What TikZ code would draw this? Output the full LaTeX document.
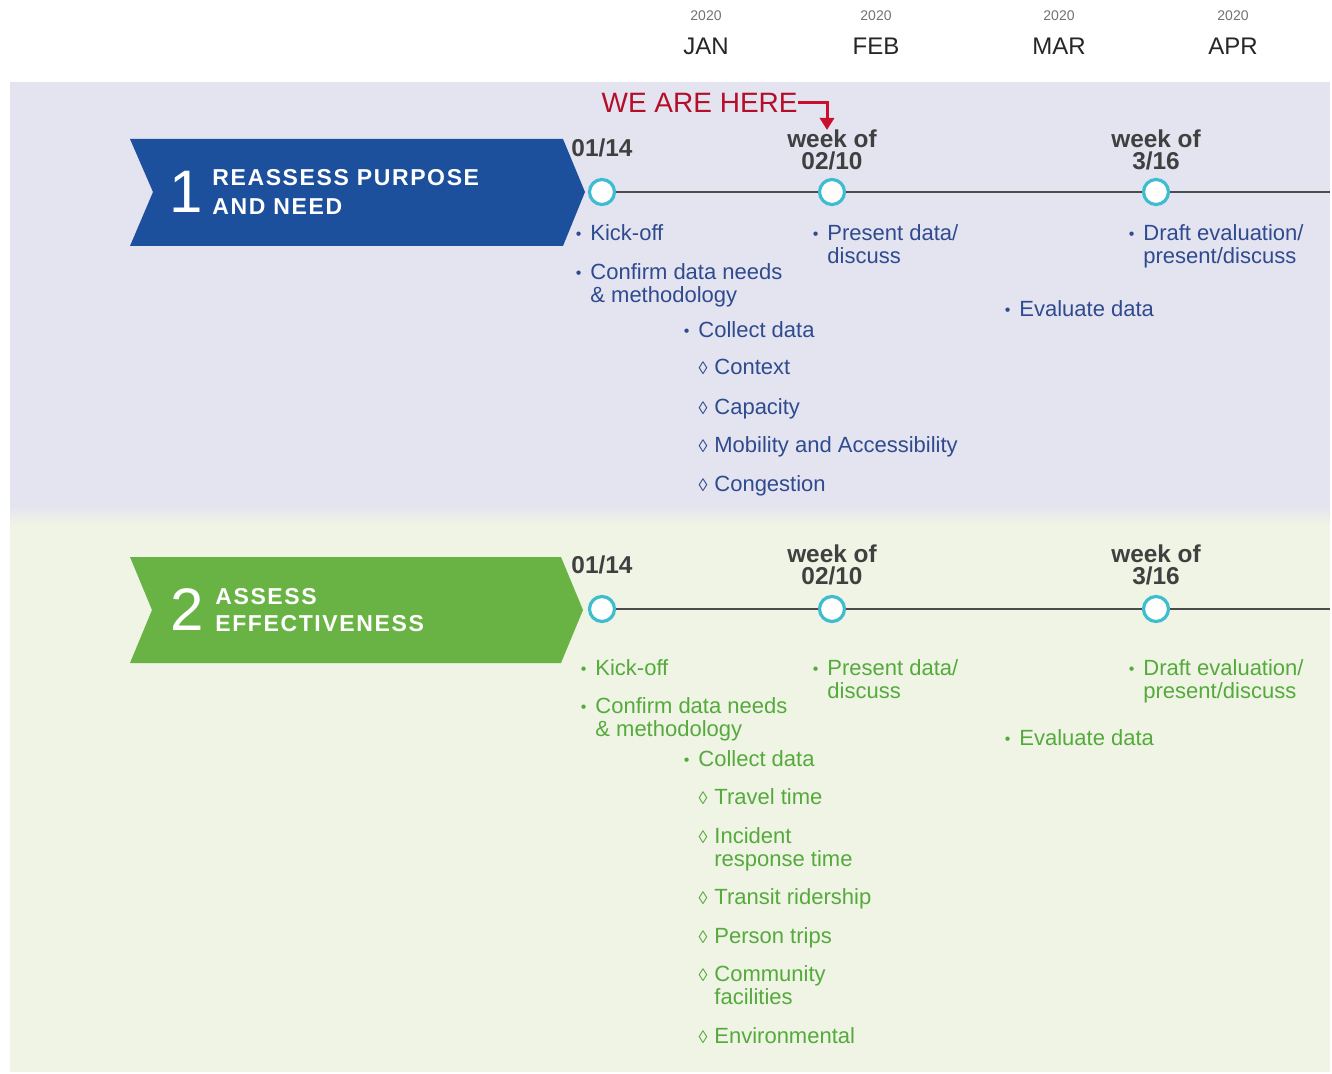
\documentclass[tikz,border=0pt]{standalone}
\usepackage{fontspec}
\setmainfont{Liberation Sans}
\newfontfamily\bannerfont[LetterSpace=7]{Liberation Sans}
\usetikzlibrary{arrows.meta,positioning}

\definecolor{bandblue}{HTML}{E3E4F0}
\definecolor{bandgreen}{HTML}{EFF4E5}
\definecolor{navy}{HTML}{1C4F9C}
\definecolor{leaf}{HTML}{69B345}
\definecolor{itemblue}{HTML}{2F4A8F}
\definecolor{itemgreen}{HTML}{55AA3C}
\definecolor{ring}{HTML}{3EBDD1}
\definecolor{herered}{HTML}{C8102E}

\newcommand{\bul}{\llap{{\fontsize{8}{8}\selectfont\raisebox{0.5pt}{•}}\hspace{4.5pt}}}
\newcommand{\dia}{\llap{{\fontsize{9}{9}\selectfont◊}\hspace{3.5pt}}}

\begin{document}
\begin{tikzpicture}[x=0.5pt,y=-0.5pt,
  month/.style={font=\fontsize{12}{12}\selectfont, text=black!85, inner sep=0pt},
  yr/.style={font=\fontsize{7}{7}\selectfont, text=black!55, inner sep=0pt},
  dot/.style={circle, draw=ring, line width=1.6pt, fill=white, minimum size=12.5pt, inner sep=0pt},
  tline/.style={draw=black!70, line width=1pt},
  date/.style={font=\bfseries\fontsize{12.2}{11}\selectfont, text=black!75, align=center, inner sep=0pt},
  itemA/.style={font=\fontsize{11}{11.5}\selectfont, text=itemblue, align=left, anchor=north west, inner sep=0pt},
  itemB/.style={itemA, text=itemgreen},
  bignum/.style={font=\fontsize{30}{30}\selectfont, text=white, inner sep=0pt},
  bannertext/.style={font=\bannerfont\bfseries\fontsize{11.5}{11.5}\selectfont, text=white, anchor=west, inner sep=0pt},
  here/.style={font=\fontsize{14}{14}\selectfont, text=herered!90!black, inner sep=0pt},
  herearrow/.style={draw=herered, line width=1.5pt, -{Triangle[width=7pt,length=6pt]}}]

\fill[white] (0,0) rectangle (1332,1074);
\useasboundingbox (0,0) rectangle (1332,1074);

% bands
\fill[bandblue] (10,82) rectangle (1330,506);
\shade[top color=bandblue, bottom color=bandgreen] (10,506) rectangle (1330,524);
\fill[bandgreen] (10,524) rectangle (1330,1072);

% months
\node[month] (jan) at (706,46) {JAN};
\node[month] (feb) at (876,46) {FEB};
\node[month] (mar) at (1059,46) {MAR};
\node[month] (apr) at (1233,46) {APR};
\node[yr, above=8pt of jan] (yjan) {2020};
\node[yr, above=8pt of feb] (yfeb) {2020};
\node[yr, above=8pt of mar] (ymar) {2020};
\node[yr, above=8pt of apr] (yapr) {2020};

% banners
\fill[navy] (130,139) -- (563,139) -- (585,192) -- (563,246) -- (130,246) -- (153,192) -- cycle;
\node[bignum] (num1) at (186,192) {1};
\node[bannertext] (title1) at (212,178) {REASSESS PURPOSE};
\node[bannertext] (title1b) at (212,207) {AND NEED};

\fill[leaf] (130,557) -- (561,557) -- (583,610) -- (561,663) -- (130,663) -- (152,610) -- cycle;
\node[bignum] (num2) at (187,610) {2};
\node[bannertext] (title2) at (215,597) {ASSESS};
\node[bannertext] (title2b) at (215,624) {EFFECTIVENESS};

% timeline 1
\coordinate (end1) at (1330,192);
\node[dot] (a1) at (602,192) {};
\node[dot] (b1) at (832,192) {};
\node[dot] (c1) at (1156,192) {};
\draw[tline] (a1) -- (b1) -- (c1) -- (end1);
\node[date] (da1) at (602,148) {01/14};
\node[date, anchor=north] (db1) at (832,129) {week of\\02/10};
\node[date, anchor=north] (dc1) at (1156,129) {week of\\3/16};

\node[here, anchor=east] (we) at (798,103) {WE ARE HERE};
\coordinate (tip) at (827,130);
\draw[herearrow] (we.east) -| (tip);

\node[itemA] (kick1) at (590,224) {\bul Kick-off};
\node[itemA] (conf1) at (590,263) {\bul Confirm data needs\\\& methodology};
\node[itemA] (coll1) at (698,321) {\bul Collect data};
\node[itemA] (ctx1) at (714,359) {\dia Context};
\node[itemA] (cap1) at (714,398) {\dia Capacity};
\node[itemA] (mob1) at (714,436) {\dia Mobility and Accessibility};
\node[itemA] (cong1) at (714,475) {\dia Congestion};
\node[itemA] (pres1) at (827,224) {\bul Present data/\\discuss};
\node[itemA] (eval1) at (1019,300) {\bul Evaluate data};
\node[itemA] (draft1) at (1143,224) {\bul Draft evaluation/\\present/discuss};

% timeline 2
\coordinate (end2) at (1330,609);
\node[dot] (a2) at (602,609) {};
\node[dot] (b2) at (832,609) {};
\node[dot] (c2) at (1156,609) {};
\draw[tline] (a2) -- (b2) -- (c2) -- (end2);
\node[date] (da2) at (602,565) {01/14};
\node[date, anchor=north] (db2) at (832,544) {week of\\02/10};
\node[date, anchor=north] (dc2) at (1156,544) {week of\\3/16};

\node[itemB] (kick2) at (595,659) {\bul Kick-off};
\node[itemB] (conf2) at (595,697) {\bul Confirm data needs\\\& methodology};
\node[itemB] (coll2) at (698,750) {\bul Collect data};
\node[itemB] (trav2) at (714,788) {\dia Travel time};
\node[itemB] (inc2) at (714,827) {\dia Incident\\response time};
\node[itemB] (tran2) at (714,888) {\dia Transit ridership};
\node[itemB] (pers2) at (714,927) {\dia Person trips};
\node[itemB] (comm2) at (714,965) {\dia Community\\facilities};
\node[itemB] (env2) at (714,1027) {\dia Environmental};
\node[itemB] (pres2) at (827,659) {\bul Present data/\\discuss};
\node[itemB] (eval2) at (1019,729) {\bul Evaluate data};
\node[itemB] (draft2) at (1143,659) {\bul Draft evaluation/\\present/discuss};
\end{tikzpicture}
\end{document}
